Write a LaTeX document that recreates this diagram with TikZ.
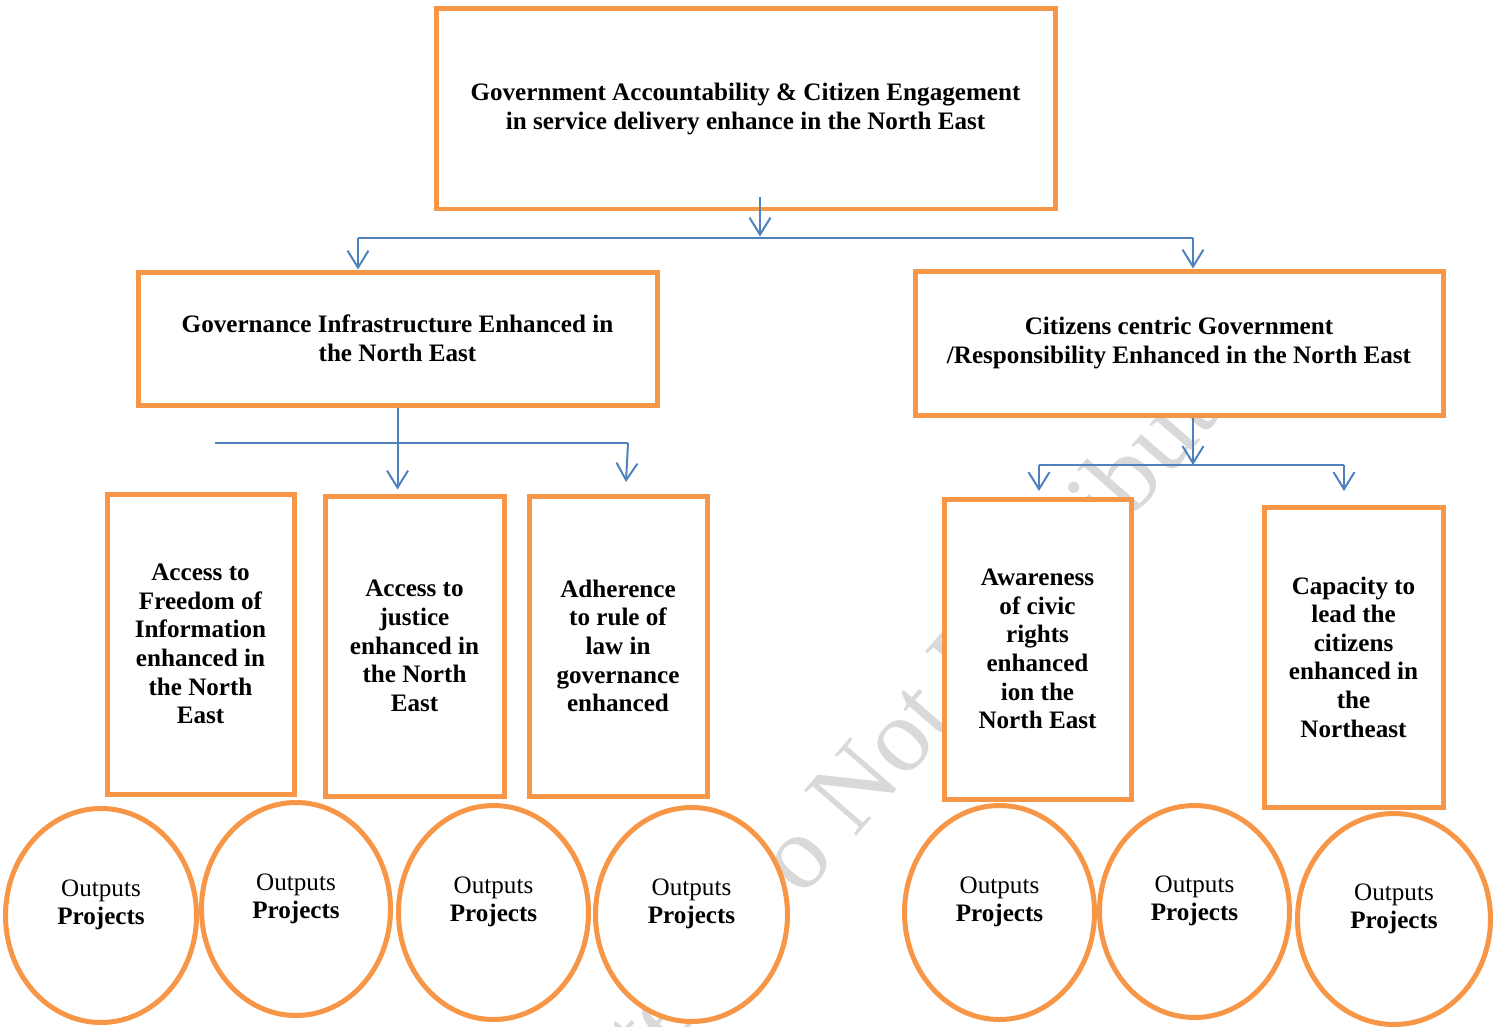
\documentclass[tikz,border=0pt]{standalone}
\usepackage{fontspec}
\setmainfont{Liberation Serif}
\usetikzlibrary{arrows.meta,shapes.geometric,calc}
\definecolor{boxorange}{HTML}{F79646}
\definecolor{linkblue}{HTML}{4F81BD}
\definecolor{wmgray}{HTML}{D9D9D9}
\begin{document}
\begin{tikzpicture}[x=0.02cm,y=-0.02cm,
  sz/.style 2 args={minimum width=#1*0.02cm, minimum height=#2*0.02cm},
  box/.style={draw=boxorange, line width=0.1cm, fill=white, align=center,
    inner sep=0pt, font=\fontsize{14.3}{16.3}\selectfont\bfseries},
  oval/.style={ellipse, draw=boxorange, line width=0.1cm, fill=white, inner sep=0pt},
  ovaltext/.style={align=center, inner sep=0pt, font=\fontsize{14.3}{16}\selectfont},
  wire/.style={draw=linkblue, line width=0.04cm},
  link/.style={wire, -{Straight Barb[length=0.34cm, width=0.42cm, line width=0.04cm]}},
  wm/.style={text=wmgray, inner sep=0pt, font=\fontsize{60}{60}\selectfont}
]
\useasboundingbox (0,0) rectangle (1500,1027);

% faint diagonal watermark behind everything
\node[wm, rotate=49] (stamp) at (826,816) {Restricted Do Not Distribute};

% goal and outcome boxes
\node[box, sz={619}{200}] (goal) at (745.5,109)
  {Government Accountability \& Citizen Engagement\\in service delivery enhance in the North East};
\node[box, sz={519}{133}] (infra) at (397.5,338.5)
  {Governance Infrastructure Enhanced in\\the North East};
\node[box, sz={528}{144}] (citizen) at (1179,343)
  {Citizens centric Government\\/Responsibility Enhanced in the North East};

% output boxes
\node[box, sz={187}{300}] (foi) at (200.5,644)
  {Access to\\Freedom of\\Information\\enhanced in\\the North\\East};
\node[box, sz={179}{300}] (justice) at (414.5,646)
  {Access to\\justice\\enhanced in\\the North\\East};
\node[box, sz={178}{300}] (rule) at (618,646)
  {Adherence\\to rule of\\law in\\governance\\enhanced};
\node[box, sz={187}{300}] (aware) at (1037.5,649)
  {Awareness\\of civic\\rights\\enhanced\\ion the\\North East};
\node[box, sz={179}{300}] (capacity) at (1353.5,657)
  {Capacity to\\lead the\\citizens\\enhanced in\\the\\Northeast};

% project ovals
\foreach \n/\cx/\cy/\w/\h in {o1/101/915.5/191/214, o2/296/909/189/213,
    o3/493.5/912.5/190/214, o4/691.5/914.5/192/214, o5/999.5/912.5/190/214,
    o6/1194.5/911.5/190/212, o7/1394/919/193/211}{
  \node[oval, sz={\w}{\h}] (\n) at (\cx,\cy) {};
  \node[ovaltext] (\n t) at ([yshift=0.21cm]\n.center) {Outputs\\\textbf{Projects}};
}

% connectors from the goal
\coordinate (busAL) at (358,238);
\coordinate (busAR) at (1193,238);
\draw[link] ([xshift=0.29cm, yshift=0.3cm]goal.south) -- ++(0,40);
\draw[wire] (busAL) -- (busAR);
\draw[link] (busAL) -- (busAL |- infra.north);
\draw[link] (busAR) -- (busAR |- citizen.north);

% connectors from governance infrastructure
\coordinate (busBL) at (215,443);
\coordinate (busBR) at (628,443);
\coordinate (ruleTip) at (626,482);
\draw[link] (infra.south) -- ++(0,82);
\draw[wire] (busBL) -- (busBR);
\draw[link] (busBR) -- (ruleTip);

% connectors from citizen-centric government
\coordinate (busCM) at (1193,465);
\coordinate (busCL) at (1039,465);
\coordinate (busCR) at (1344,465);
\draw[link] (busCM |- citizen.south) -- (busCM);
\draw[wire] (busCL) -- (busCR);
\draw[link] (busCL) -- ++(0,26);
\draw[link] (busCR) -- ++(0,26);
\end{tikzpicture}
\end{document}
